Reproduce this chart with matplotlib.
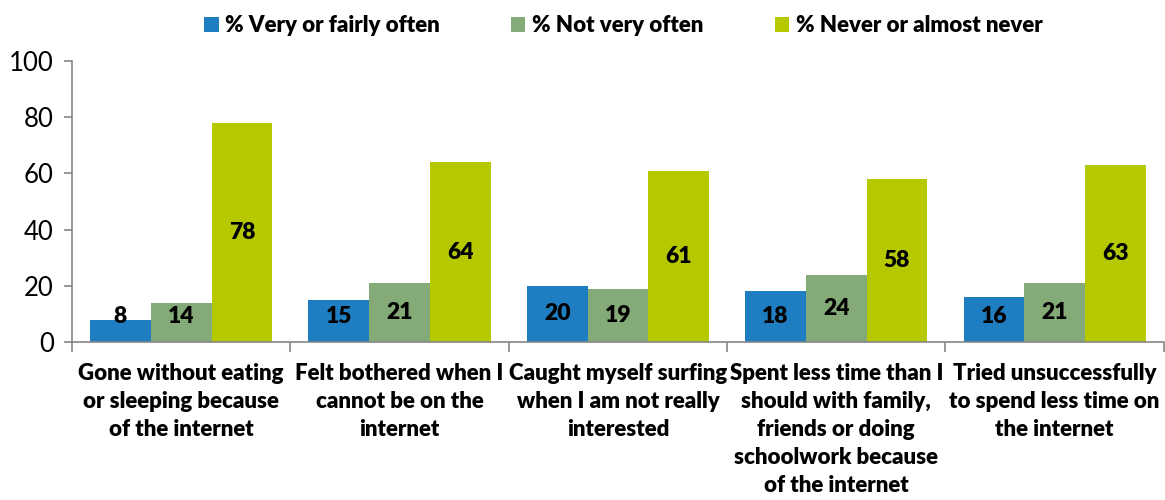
import matplotlib
matplotlib.use("Agg")
import matplotlib.pyplot as plt
import numpy as np

categories = [
    "Gone without eating\nor sleeping because\nof the internet",
    "Felt bothered when I\ncannot be on the\ninternet",
    "Caught myself surfing\nwhen I am not really\ninterested",
    "Spent less time than I\nshould with family,\nfriends or doing\nschoolwork because\nof the internet",
    "Tried unsuccessfully\nto spend less time on\nthe internet",
]
series_names = ["% Very or fairly often", "% Not very often", "% Never or almost never"]
very_often = [8, 15, 20, 18, 16]
not_very_often = [14, 21, 19, 24, 21]
never = [78, 64, 61, 58, 63]
yticks = [0, 20, 40, 60, 80, 100]

colors = ["#1F7EC1", "#84AA78", "#B5C800"]
plt.rcParams['font.family'] = ['Lato', 'DejaVu Sans']

fig = plt.figure(figsize=(11.65, 5.0), dpi=100)
ax = fig.add_axes([72/1165, 1-342/500, 1-72/1165-0.001, (342-61)/500])

x = np.arange(len(categories))
w = 0.278
data = [very_often, not_very_often, never]
for i, (vals, c, name) in enumerate(zip(data, colors, series_names)):
    ax.bar(x + (i-1)*w, vals, w, color=c, label=name, zorder=2)
    for xi, v in zip(x + (i-1)*w, vals):
        ax.text(xi, max(v/2, 9), str(v), ha='center', va='center',
                fontsize=16.5, fontweight='heavy', color='black', zorder=3)

ax.set_xlim(-0.5, len(categories)-0.5)
ax.set_ylim(0, 100)
ax.set_yticks(yticks)
ax.tick_params(axis='y', labelsize=18.5, length=6, color='#868686', width=1.2, pad=7)
ax.set_xticks(x)
ax.set_xticklabels(categories, fontsize=16, fontweight='heavy', linespacing=1.42)
ax.tick_params(axis='x', length=0, pad=15)
ax.set_xticks(np.arange(len(categories)+1) - 0.5, minor=True)
ax.tick_params(axis='x', which='minor', length=7, color='#868686', width=1.2)

for s in ['top', 'right']:
    ax.spines[s].set_visible(False)
for s in ['left', 'bottom']:
    ax.spines[s].set_color('#868686')
    ax.spines[s].set_linewidth(1.2)

fig.legend(loc='upper center', bbox_to_anchor=(0.535, 1.01), ncol=3, frameon=False,
           prop={'size': 16, 'weight': 'heavy'}, handlelength=0.65, handleheight=0.65,
           handletextpad=0.3, columnspacing=3.2)

fig.savefig("out.png", dpi=100)
